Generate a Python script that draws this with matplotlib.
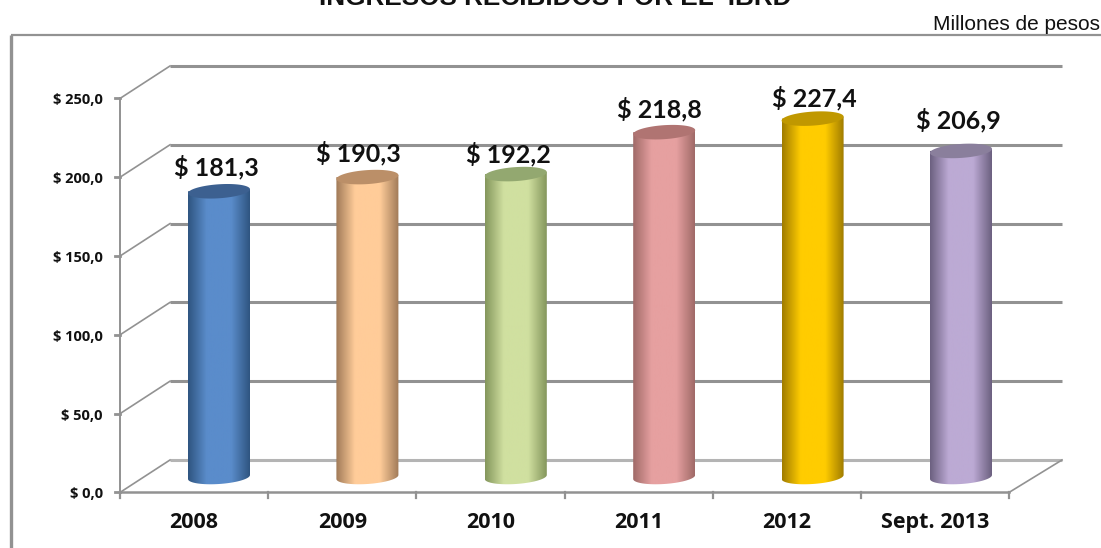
import numpy as np
import matplotlib
matplotlib.use('Agg')
import matplotlib.pyplot as plt
from matplotlib.colors import LinearSegmentedColormap
from matplotlib.patches import PathPatch
from matplotlib.path import Path

# data
categories = ['2008', '2009', '2010', '2011', '2012', 'Sept. 2013']
values = [181.3, 190.3, 192.2, 218.8, 227.4, 206.9]
labels = ['$ 181,3', '$ 190,3', '$ 192,2', '$ 218,8', '$ 227,4', '$ 206,9']
y_ticks = [0, 50, 100, 150, 200, 250]
y_tick_labels = ['$ 0,0', '$ 50,0', '$ 100,0', '$ 150,0', '$ 200,0', '$ 250,0']
edge_colors = ['#2f5580', '#a07a58', '#84965c', '#a06a68', '#a07c00', '#6c6080']
mid_colors = ['#5a8ccb', '#ffcc99', '#d0e0a0', '#e6a0a0', '#ffcc00', '#bcaad4']
top_colors = ['#3c6090', '#bb8f68', '#93a870', '#b07472', '#c09800', '#8a7f9c']

# labels were nudged by hand in the original (pixels)
label_dx = [-3, -9, -7, -5, 2, -3]
label_dy = [24, 24, 20, 23, 20, 31]

# px -> data mapping: category i is at 219+148.4*i, value v at 477-1.576*v
PX_X = 148.4
PX_Y = 1.576
GREY = '#929292'
FRONT_DY = -9.8
BACK_DY = 10.8
BAR_W = 62 / PX_X
ELL_H = 14 / PX_Y
SHEAR = (4 / PX_Y) / BAR_W

fig = plt.figure(figsize=(11.01, 5.48), dpi=100)
ax = fig.add_axes([0, 0, 1, 1])
ax.axis('off')


def px(x, y):
    return (x - 219) / PX_X, (477 - y) / PX_Y


# outer frame (only left and top show)
x0, y0 = px(11, 35)
x1, y1 = px(1101, 548)
ax.plot([x0, x0], [y1, y0], color=GREY, lw=2.4, solid_capstyle='butt')
ax.plot([x0, x1], [y0, y0], color=GREY, lw=1.6, solid_capstyle='butt')

# floor and walls
fx0 = px(120, 0)[0]
fx1 = px(1009, 0)[0]
bx0 = px(170, 0)[0]
bx1 = px(1062, 0)[0]
for v, lab in zip(y_ticks, y_tick_labels):
    ax.plot([bx0, bx1], [v + BACK_DY, v + BACK_DY], color=GREY if v else '#b4b4b4',
            lw=2.2, solid_capstyle='butt', zorder=1)
    ax.plot([fx0, bx0], [v + FRONT_DY, v + BACK_DY], color=GREY, lw=1.2, zorder=1)
    ax.plot([fx0 - 5 / PX_X, fx0], [v + FRONT_DY, v + FRONT_DY], color=GREY, lw=2, zorder=1)
    ax.text(fx0 - 17 / PX_X, v + FRONT_DY - 1.2, lab, ha='right', va='center',
            fontsize=10.5, fontweight='bold', family='Open Sans', color='#111111')
ax.plot([fx0, fx0], [FRONT_DY - 5 / PX_Y, 250 + FRONT_DY], color=GREY, lw=1.4, zorder=1)
ax.plot([fx0, fx1], [FRONT_DY, FRONT_DY], color=GREY, lw=1.8, zorder=1)
ax.plot([fx1, bx1], [FRONT_DY, BACK_DY], color=GREY, lw=1.2, zorder=1)
for i in range(7):
    tx = fx0 + i * (fx1 - fx0) / 6
    ax.plot([tx, tx], [FRONT_DY - 6 / PX_Y, FRONT_DY], color=GREY, lw=1.6, zorder=1)

# cylinders
grad = np.linspace(0, 1, 128).reshape(1, -1)
t = np.linspace(0, 2 * np.pi, 81)
for i, (v, name, lab) in enumerate(zip(values, categories, labels)):
    cmap = LinearSegmentedColormap.from_list('c' + str(i), [
        (0, edge_colors[i]), (0.3, mid_colors[i]), (0.7, mid_colors[i]), (1, edge_colors[i])])
    left = i - BAR_W / 2
    right = i + BAR_W / 2
    ex = np.cos(t) * BAR_W / 2
    ey = SHEAR * ex + np.sin(t) * ELL_H / 2
    # lower half of the base ellipse, then up to the top rim
    low = t[40:]
    bx = np.cos(low) * BAR_W / 2
    by = SHEAR * bx + np.sin(low) * ELL_H / 2
    verts = [(left, v - SHEAR * BAR_W / 2)] + list(zip(i + bx, by)) + [(right, v + SHEAR * BAR_W / 2), (left, v)]
    clip = PathPatch(Path(verts), transform=ax.transData, fc='none', ec='none')
    ax.add_patch(clip)
    im = ax.imshow(grad, cmap=cmap, extent=[left, right, -ELL_H, v + ELL_H], aspect='auto', zorder=2)
    im.set_clip_path(clip)
    ax.fill(i + ex, v + ey, fc=top_colors[i], ec='none', zorder=3)
    ax.text(i + label_dx[i] / PX_X, v + label_dy[i] / PX_Y, lab, ha='center', va='center', fontsize=18,
            fontweight='bold', family='Lato', color='#111111', zorder=4)
    ax.text(fx0 + (i + 0.5) * (fx1 - fx0) / 6, FRONT_DY - 19, name, ha='center', va='center',
            fontsize=15.5, fontweight='bold', family='Open Sans', color='#111111')

ax.set_xlim(-219 / PX_X, (1101 - 219) / PX_X)
ax.set_ylim((477 - 548) / PX_Y, 477 / PX_Y)

# title is cut by the top edge in the original too
fig.text(555 / 1101, 1 - 5 / 548, 'INGRESOS RECIBIDOS POR EL  IBRD', ha='center', va='baseline',
         fontsize=18.8, fontweight='bold', family='Liberation Sans', color='#111111')
fig.text(1100 / 1101, 1 - 24 / 548, 'Millones de pesos', ha='right', va='center',
         fontsize=15, family='Liberation Sans', color='#111111')

fig.savefig('out.png', dpi=100)
